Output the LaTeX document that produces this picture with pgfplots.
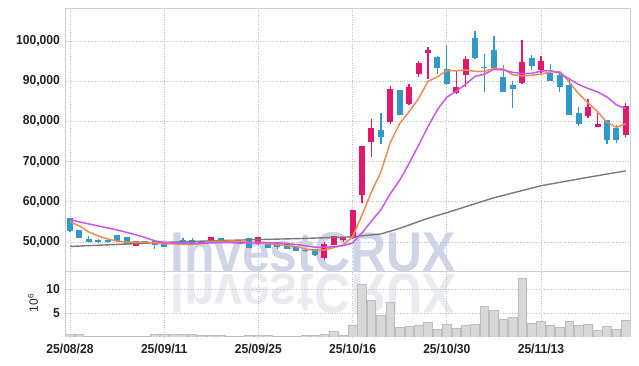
\documentclass[border=0pt]{standalone}
\usepackage{fontspec}
\setmainfont{Liberation Sans}
\newfontfamily\lblfont{Liberation Sans}[FakeStretch=0.93]
\newfontfamily\wmfont{Liberation Sans}[FakeStretch=0.89]
\usepackage{pgfplots}
\pgfplotsset{compat=1.18}
\usepackage{pgfplotstable}

\definecolor{upc}{HTML}{E2186C}
\definecolor{downc}{HTML}{3199C9}
\definecolor{mafive}{HTML}{EF8A52}
\definecolor{maten}{HTML}{C957EC}
\definecolor{masixty}{HTML}{7A7A7A}
\definecolor{gridc}{HTML}{B9C2D9}
\definecolor{framec}{HTML}{CFCFCF}
\definecolor{volf}{HTML}{D8D8D8}
\definecolor{vold}{HTML}{BDBDBD}
\definecolor{wmc}{HTML}{CFD4E7}
\definecolor{wmr}{HTML}{EAEBF0}
\definecolor{labc}{HTML}{222222}

\pgfplotstableread{
i o h l c
7 49100 50200 49000 50100
14 49600 50300 49500 50200
15 50200 51200 50100 51100
20 49400 51200 49300 51100
27 46100 50000 45500 49400
28 49300 51600 49200 51300
29 50600 51300 49900 51100
30 50900 58000 50800 57900
31 61700 74000 59600 73700
32 75000 80500 71200 78100
34 79900 88800 79300 87800
36 84300 89300 84200 88500
37 91800 95000 91100 94300
38 97000 98600 90600 97600
41 87000 92900 86700 88400
42 91500 96300 88500 95300
48 89500 100200 89400 94600
50 92800 96300 92000 94900
55 81400 85700 80800 83500
56 78700 82400 78600 79100
59 76600 84500 76000 83800
}\uptab

\pgfplotstableread{
i o h l c
0 55800 55900 52600 52700
1 52900 53100 50900 51000
2 50500 51500 49900 50000
3 50300 50800 49800 50100
4 50400 50600 49800 50000
5 51500 51600 50100 50200
6 51000 51100 49500 49600
8 50000 50300 49400 49800
9 50000 50200 48300 49300
10 49600 49700 48700 48800
11 49800 50000 49500 49700
12 50400 51000 49500 49600
13 50300 51000 49600 49700
16 50900 51000 50100 50200
17 50400 50500 49700 49800
18 49800 50000 49400 49600
19 50900 51000 48500 48600
21 49800 49900 48500 48600
22 49500 49600 48200 48800
23 49300 49400 48200 48300
24 48700 48800 47700 47800
25 47900 48100 47500 47700
26 48200 48300 46500 46800
33 77700 82000 74400 76200
35 87600 87700 81500 81600
39 95900 96300 91700 93400
40 93000 99000 89000 89300
43 100500 102600 95500 95900
44 93300 96700 87400 93200
45 97500 101300 93200 93400
46 90900 94000 87300 87400
47 88800 90000 83300 88100
49 95700 96600 92700 93800
51 91800 94400 90000 90100
52 91500 92100 87400 88500
53 89000 90700 81500 81600
54 82000 83500 78900 79400
57 80200 80300 74500 75300
58 78300 79100 74700 75300
}\downtab

\pgfplotstableread{
i ma5 ma10
0 55000 55600
1 54000 55000
2 52500 54500
3 51500 54000
4 50760 53500
5 50260 53000
6 49980 52400
7 50000 51800
8 49940 51100
9 49800 50280
10 49520 49890
11 49540 49760
12 49440 49720
13 49420 49680
14 49600 49700
15 50060 49790
16 50160 49850
17 50200 49820
18 50180 49800
19 49860 49730
20 49860 49960
21 49540 49850
22 49340 49770
23 49080 49630
24 48920 49390
25 48240 49050
26 47880 48710
27 48000 48670
28 48600 48840
29 49260 49090
30 51300 49770
31 56680 52280
32 62420 55210
33 67400 58000
34 74740 62000
35 79480 65390
36 82440 69560
37 85680 74050
38 89960 78680
39 91080 82910
40 92620 86050
41 92600 87520
42 92800 89240
43 92460 91210
44 92420 91750
45 93240 92930
46 93040 92820
47 91600 92200
48 91340 91900
49 91460 91940
50 91760 92500
51 92300 92670
52 92380 91990
53 89780 90560
54 86900 89180
55 84620 88190
56 82420 87360
57 79780 86080
58 78520 84150
59 79400 83150
}\matab

\pgfplotstableread{
i ma60
0 48900
5 49400
10 49900
15 50300
20 50600
25 50900
30 51300
33 52000
35 53400
38 55900
40 57300
45 61000
50 64000
55 66100
59 67700
}\sixtytab

\pgfplotstableread{
i v
0 0.6
1 0.6
2 0.2
3 0.2
4 0.2
5 0.2
6 0.2
7 0.2
8 0.2
9 0.6
10 0.6
11 0.6
12 0.6
13 0.6
14 0.4
15 0.4
16 0.4
17 0.2
18 0.2
19 0.4
20 0.4
21 0.4
22 0.2
23 0.2
24 0.2
25 0.35
26 0.35
27 0.6
28 1.1
29 0.4
30 2.5
31 11.0
32 7.6
33 4.45
34 7.2
35 2.05
36 2.3
37 2.5
38 3.05
39 1.6
40 2.6
41 1.9
42 2.5
43 2.7
44 6.45
45 5.6
46 3.75
47 4.15
48 12.2
49 2.9
50 3.3
51 2.5
52 2.1
53 3.3
54 2.5
55 2.6
56 1.45
57 2.2
58 1.65
59 3.45
}\voltab

\pgfplotsset{
  chartbase/.style={
    scale only axis, anchor=south west, width=564pt,
    xmin=-0.425, xmax=59.45,
    xtick={0,10,20,30,40,50},
    grid=major,
    major grid style={gridc, dotted, line width=0.8pt},
    axis line style={framec, line width=1pt},
    major tick length=0pt,
    scaled y ticks=false,
    /pgf/number format/fixed,
    /pgf/number format/1000 sep={,},
    /pgf/number format/assume math mode=true,
    yticklabel style={font=\lblfont\bfseries\fontsize{13}{13}\selectfont, text=labc, inner sep=0pt, anchor=east, xshift=-6pt},
    xticklabel style={font=\lblfont\bfseries\fontsize{13}{13}\selectfont, text=labc, inner sep=0pt, anchor=north, yshift=-7pt},
  },
  candle/.style 2 args={draw=none, mark=none, error bars/.cd, y dir=plus, y explicit,
    error mark=none, error bar style={draw=#1, line width=#2}},
}

\begin{document}
\begin{tikzpicture}
\useasboundingbox (-66pt,-29pt) rectangle (573pt,337pt);
% watermark and its reflection
\node[anchor=base west, inner sep=0pt, text=wmc, font=\wmfont\bfseries\fontsize{56}{56}\selectfont] at (104pt,65pt) {InvestCRUX};
\node[anchor=base west, inner sep=0pt, text=wmr, font=\wmfont\bfseries\fontsize{56}{56}\selectfont] at (104pt,62pt) {\scalebox{1}[-1]{InvestCRUX}};

% price panel
\begin{axis}[chartbase, at={(0pt,65pt)}, height=263pt,
  ymin=42540, ymax=107970,
  ytick={50000,60000,70000,80000,90000,100000},
  xticklabels={}]
  % wicks
  \addplot[candle={upc}{1.3pt}]
    table[x=i, y=l, y error expr={\thisrow{h}-\thisrow{l}}] {\uptab};
  \addplot[candle={downc}{1.3pt}]
    table[x=i, y=l, y error expr={\thisrow{h}-\thisrow{l}}] {\downtab};
  % bodies
  \addplot[candle={upc}{6pt}]
    table[x=i, y expr={min(\thisrow{o},\thisrow{c})}, y error expr={abs(\thisrow{c}-\thisrow{o})+150}] {\uptab};
  \addplot[candle={downc}{6pt}]
    table[x=i, y expr={min(\thisrow{o},\thisrow{c})}, y error expr={abs(\thisrow{c}-\thisrow{o})+150}] {\downtab};
  % moving averages
  \addplot[masixty, line width=1.4pt, mark=none] table[x=i, y=ma60] {\sixtytab};
  \addplot[mafive, line width=1.5pt, mark=none] table[x=i, y=ma5] {\matab};
  \addplot[maten, line width=1.5pt, mark=none] table[x=i, y=ma10] {\matab};
\end{axis}

% volume panel
\begin{axis}[chartbase, at={(0pt,0pt)}, height=65pt,
  ymin=0, ymax=13.54, ytick={5,10},
  xticklabels={25/08/28,25/09/11,25/09/25,25/10/16,25/10/30,25/11/13}]
  \addplot[ybar, bar width=8.6pt, fill=volf, draw=vold, line width=0.6pt] table[x=i, y=v] {\voltab};
\end{axis}

\node[rotate=90, inner sep=0pt, text=labc, font=\fontsize{12}{12}\selectfont] at (-33pt,34pt) {10\textsuperscript{6}};
\end{tikzpicture}
\end{document}
